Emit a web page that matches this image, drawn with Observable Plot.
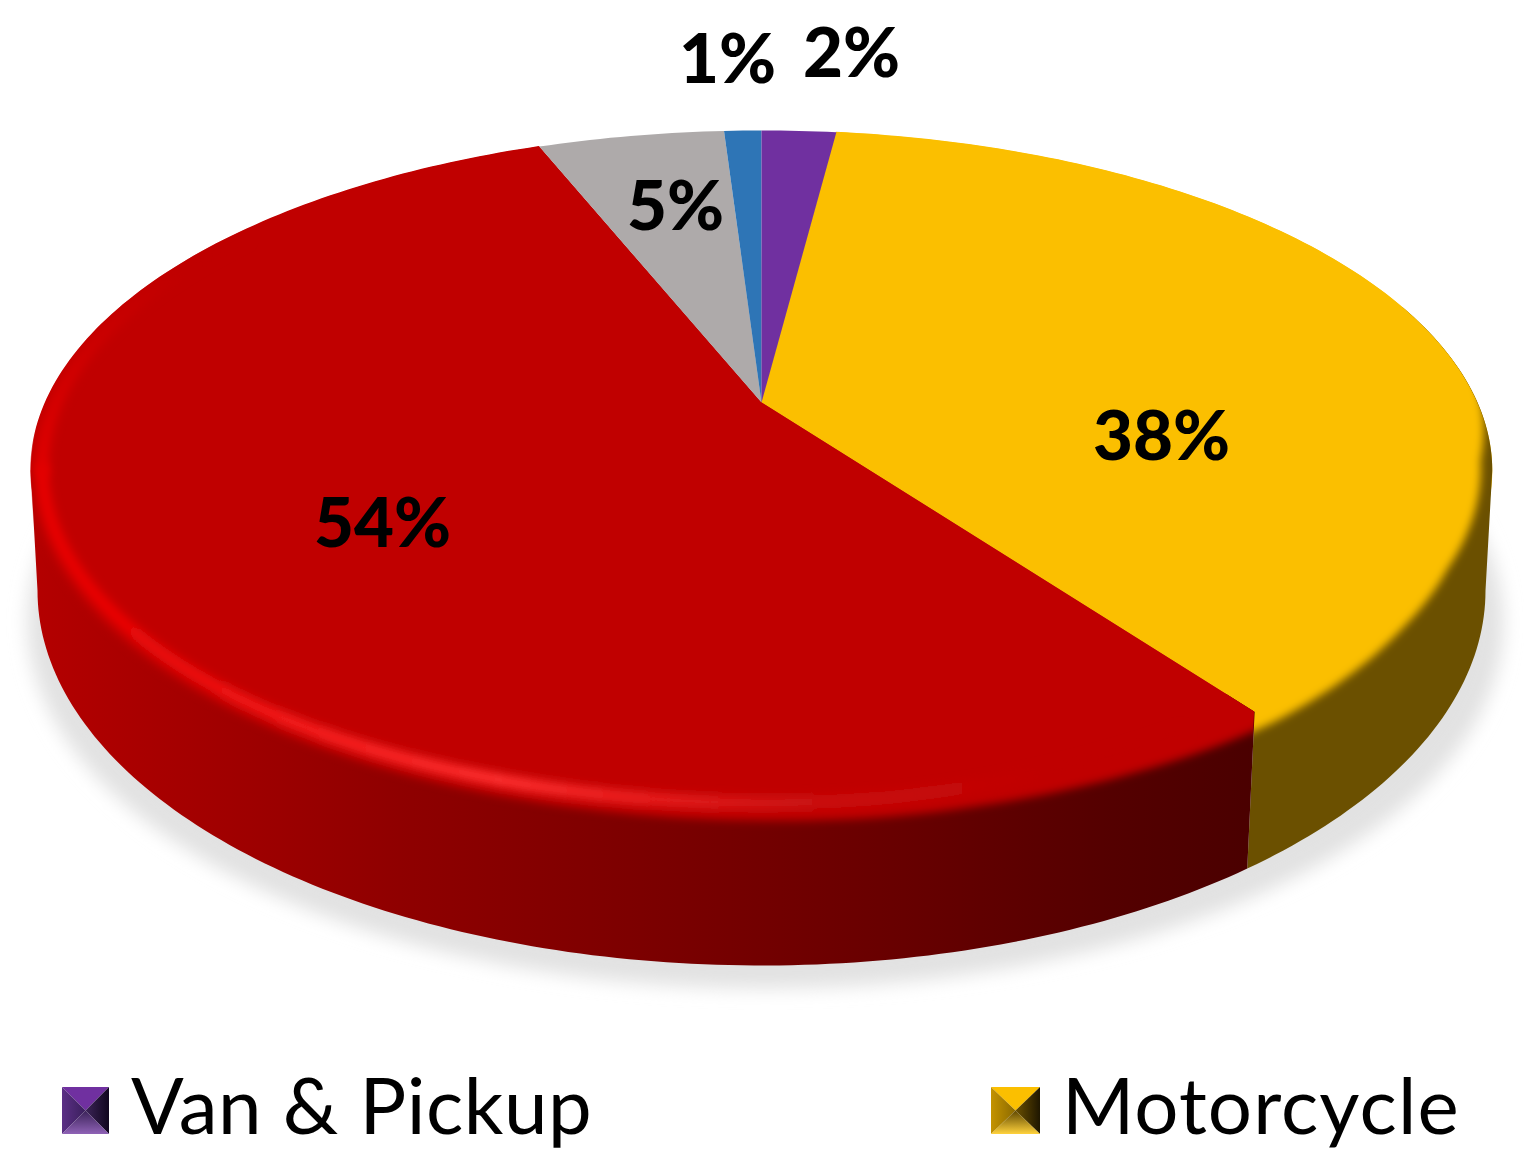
<!DOCTYPE html>
<html>
<head>
<meta charset="utf-8">
<script src="https://cdn.jsdelivr.net/npm/d3@7"></script>
<script src="https://cdn.jsdelivr.net/npm/@observablehq/plot@0.6"></script>
<style>
  html, body { margin: 0; padding: 0; background: #fff; }
  #root { position: relative; width: 1524px; height: 1170px; overflow: hidden; font-family: Lato, sans-serif; }
  #root > svg { display: block; }
  .legend-item { position: absolute; top: 1087px; height: 47px; display: flex; align-items: center; color: #000; font-size: 78px; letter-spacing: 0.6px; line-height: 47px; white-space: nowrap; }
  .legend-item svg { flex: none; margin-right: 22px; display: block; }
  .legend-item span { position: relative; top: -6px; }
</style>
</head>
<body>
<div id="root"></div>
<script>
// ---- values (clockwise from the top) ----
const sliceShares = [2, 38, 54, 5, 1];
const sliceLabels = ["2%", "38%", "54%", "5%", "1%"];
const sliceColors = ["#7030a0", "#fbbf00", "#c00000", "#aeaaaa", "#2e75b6"];
const legendNames = ["Van & Pickup", "Motorcycle"];

// ---- layout of the perspective view ----
const W = 1524, H = 1050;
const labelAnchor = [[851, 54], [1161, 437], [382, 524], [675, 207], [727, 60]];
const cx = 761, cy = 402, bx = 716, by = 326.4, persp = 0.2;
const base = {cx: 761, cy: 590, rx: 724, ry: 375};
const rad = Math.PI / 180;
// the drawn disc is a little flatter than a true ellipse towards its lower right
const rimShape = d3.scaleLinear([0, 118, 144, 172, 360], [1, 1, 0.985, 1, 1]);

function rimPt(phi, r = 1) {
  const q = ((phi % 360) + 360) % 360;
  const R = r * rimShape(q);
  const c = Math.cos(phi * rad), s = Math.sin(phi * rad), d = 1 + persp * R * c;
  return {x: cx + bx * R * s / d, y: cy - by * R * c / d};
}
function basePt(theta) {
  return {x: base.cx + base.rx * Math.sin(theta * rad), y: base.cy - base.ry * Math.cos(theta * rad)};
}
function arc(a, b, r = 1) {
  const n = Math.max(2, Math.ceil(Math.abs(b - a)));
  return d3.range(n + 1).map(i => {
    const p = a + (b - a) * i / n;
    return rimPt(p, typeof r === "function" ? r(p) : r);
  });
}
function baseArc(a, b) {
  const n = Math.max(2, Math.ceil(Math.abs(b - a)));
  return d3.range(n + 1).map(i => basePt(a + (b - a) * i / n));
}

const total = d3.sum(sliceShares);
const ends = Array.from(d3.cumsum(sliceShares), v => v / total * 360);
const starts = [0, ...ends.slice(0, -1)];
const slice = i => [{x: cx, y: cy}, ...arc(starts[i], ends[i]), {x: cx, y: cy}];

const seam = ends[1];
const seamTop = rimPt(seam);
const seamTheta = 180 - Math.asin(0.985 * (seamTop.x - cx) / base.rx) / rad;
const rightRim = 101.5, leftRim = 258.5;

// the wall polygons reach a little inside the rim; the soft top face covers that part
const yellowWall = [...arc(72, seam, 0.95), seamTop, ...baseArc(seamTheta, 90), ...arc(rightRim, 72)];
const redWall = [...arc(seam, leftRim, 0.95), rimPt(leftRim), ...baseArc(270, seamTheta), seamTop];

const yellowR = d3.scaleLinear([0, 60, 78, 100, 118, 128, seam, 156], [1.06, 1.06, 1.03, 0.985, 0.985, 1, 1.03, 1.03]);
const redR = d3.scaleLinear([130, seam, 180, 215, 250, 262, 280, 360], [1.03, 1.03, 1.02, 1.01, 1, 1, 1.06, 1.06]);
function face(i, rf) {
  const a = starts[i] - 12, b = ends[i] + 12;
  const opp = rimPt((starts[i] + ends[i]) / 2 + 180, 0.1);
  return [opp, ...arc(a, b, rf), opp];
}
const redBandLow = arc(150, 258.5, 0.985);
const redBandHigh = arc(258.5, 305, 0.985);
const shadow = d3.range(0, 361, 2).map(t => ({
  x: 765 + 738 * Math.sin(t * rad), y: 622 - 366 * Math.cos(t * rad)
}));

const poly = (pts, label, fill) => Plot.line(pts, {x: "x", y: "y", fill, stroke: "none", curve: "linear", className: label});
const band = (pts, label, stroke) => Plot.line(pts, {x: "x", y: "y", stroke, strokeWidth: 13, fill: "none", curve: "linear", className: label});

const defsMark = () => {
  const svg = d3.create("svg:defs");
  svg.html(`
    <filter id="blur3" filterUnits="userSpaceOnUse" x="0" y="0" width="1524" height="1050"><feGaussianBlur stdDeviation="5"/></filter>
    <filter id="blur4" filterUnits="userSpaceOnUse" x="0" y="0" width="1524" height="1050"><feGaussianBlur stdDeviation="4"/></filter>
    <filter id="blur9" filterUnits="userSpaceOnUse" x="0" y="0" width="1524" height="1050"><feGaussianBlur stdDeviation="9"/></filter>
    <linearGradient id="redWallFill" gradientUnits="userSpaceOnUse" x1="30" x2="1260" y1="0" y2="0">
      <stop offset="0" stop-color="#b40000"/><stop offset="0.12" stop-color="#a50000"/>
      <stop offset="0.3" stop-color="#8f0000"/><stop offset="0.6" stop-color="#720000"/>
      <stop offset="0.72" stop-color="#660000"/><stop offset="0.88" stop-color="#540000"/>
      <stop offset="1" stop-color="#4a0000"/>
    </linearGradient>
    <linearGradient id="redBandStroke" gradientUnits="userSpaceOnUse" x1="30" x2="1050" y1="0" y2="0">
      <stop offset="0" stop-color="#e80000"/><stop offset="0.12" stop-color="#ec0808"/>
      <stop offset="0.3" stop-color="#f82222"/><stop offset="0.46" stop-color="#ff3030"/>
      <stop offset="0.6" stop-color="#ea2020"/><stop offset="0.76" stop-color="#cc1212"/>
      <stop offset="1" stop-color="#c00000"/>
    </linearGradient>
    <linearGradient id="redBandTop" gradientUnits="userSpaceOnUse" x1="0" x2="0" y1="270" y2="500">
      <stop offset="0" stop-color="#c00000"/><stop offset="1" stop-color="#e80000"/>
    </linearGradient>`);
  return svg.node();
};

const chart = Plot.plot({
  width: W, height: H,
  margin: 0,
  style: {background: "transparent", overflow: "visible"},
  x: {domain: [0, W], range: [0, W], axis: null},
  y: {domain: [0, H], range: [0, H], axis: null},
  marks: [
    defsMark,
    poly(shadow, "m-shadow", "#e2e2e2"),
    poly(slice(1), "m-yellow-top", sliceColors[1]),
    poly(yellowWall, "m-yellow-wall", "#6b5000"),
    poly(face(1, yellowR), "m-yellow-face", sliceColors[1]),
    poly(slice(2), "m-red-top", sliceColors[2]),
    poly(redWall, "m-red-wall", "url(#redWallFill)"),
    poly(face(2, redR), "m-red-face", sliceColors[2]),
    band(redBandLow, "m-red-band", "url(#redBandStroke)"),
    band(redBandHigh, "m-red-band-top", "url(#redBandTop)"),
    poly(slice(3), "m-gray-top", sliceColors[3]),
    poly(slice(4), "m-blue-top", sliceColors[4]),
    poly(slice(0), "m-purple-top", sliceColors[0]),
    Plot.text(sliceLabels, {
      x: (d, i) => labelAnchor[i][0], y: (d, i) => labelAnchor[i][1], text: d => d,
      fontFamily: "Lato, sans-serif", fontWeight: 900, fontSize: 69, fill: "#000"
    })
  ]
});

const root = document.getElementById("root");
root.appendChild(chart);

const NS = "http://www.w3.org/2000/svg";
const q = label => chart.querySelector("g." + label);
const defsEl = chart.querySelector("defs");
function addClip(id, labels) {
  const cp = document.createElementNS(NS, "clipPath");
  cp.setAttribute("id", id);
  labels.forEach(l => {
    const p = document.createElementNS(NS, "path");
    p.setAttribute("d", q(l).querySelector("path").getAttribute("d"));
    cp.appendChild(p);
  });
  defsEl.appendChild(cp);
}
addClip("clipYellow", ["m-yellow-top", "m-yellow-wall"]);
addClip("clipRed", ["m-red-top", "m-red-wall"]);
const soft = (label, filter, clip) => {
  // wrap so that the clip stays sharp while the filter softens the contents
  const g = q(label);
  const wrap = document.createElementNS(NS, "g");
  g.parentNode.insertBefore(wrap, g);
  wrap.appendChild(g);
  g.setAttribute("filter", `url(#${filter})`);
  if (clip) wrap.setAttribute("clip-path", `url(#${clip})`);
};
soft("m-shadow", "blur9");
soft("m-yellow-face", "blur4", "clipYellow");
soft("m-red-face", "blur4", "clipRed");
soft("m-red-band", "blur3", "clipRed");
soft("m-red-band-top", "blur3", "clipRed");

// legend below the plot
function swatch(colors, id, w) {
  return `<svg width="${w}" height="47" viewBox="0 0 47 47" preserveAspectRatio="none">
    <defs>
      <linearGradient id="${id}L" x1="0" x2="1" y1="0" y2="0"><stop offset="0" stop-color="${colors.leftA}"/><stop offset="1" stop-color="${colors.leftB}"/></linearGradient>
      <linearGradient id="${id}R" x1="0" x2="1" y1="0" y2="0"><stop offset="0" stop-color="${colors.rightA}"/><stop offset="1" stop-color="${colors.rightB}"/></linearGradient>
      <linearGradient id="${id}B" x1="0" x2="0" y1="0" y2="1"><stop offset="0" stop-color="${colors.botA}"/><stop offset="1" stop-color="${colors.botB}"/></linearGradient>
    </defs>
    <polygon points="0,0 47,0 23.5,23.5" fill="${colors.top}"/>
    <polygon points="0,0 23.5,23.5 0,47" fill="url(#${id}L)"/>
    <polygon points="47,0 23.5,23.5 47,47" fill="url(#${id}R)"/>
    <polygon points="0,47 47,47 23.5,23.5" fill="url(#${id}B)"/>
  </svg>`;
}
const swatches = [
  swatch({top: "#7030a0", leftA: "#5b2f85", leftB: "#3a1f5c", rightA: "#3c2458", rightB: "#10061e", botA: "#3a2258", botB: "#8f62b6"}, "van", 47),
  swatch({top: "#fbbf00", leftA: "#c49300", leftB: "#8c6a00", rightA: "#6b5000", rightB: "#1e1600", botA: "#5f4700", botB: "#ffd23c"}, "moto", 49)
];
const lefts = [62, 991];
const spacing = [0.6, 1.1];
legendNames.forEach((name, i) => {
  const el = document.createElement("div");
  el.className = "legend-item";
  el.style.left = lefts[i] + "px";
  el.style.letterSpacing = spacing[i] + "px";
  el.innerHTML = swatches[i] + `<span></span>`;
  el.querySelector("span").textContent = name;
  root.appendChild(el);
});
</script>
</body>
</html>
